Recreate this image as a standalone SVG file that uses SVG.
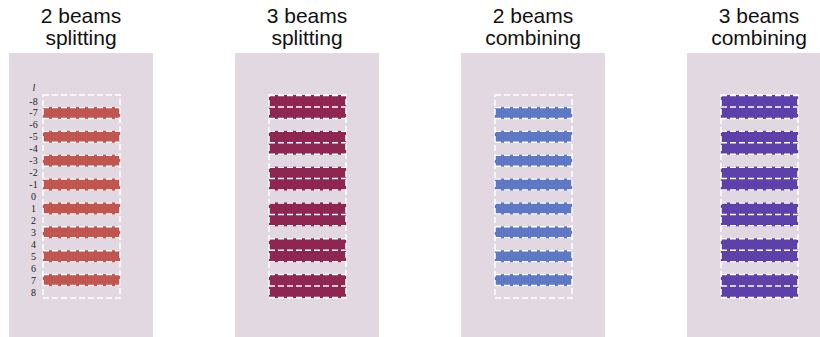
<svg xmlns="http://www.w3.org/2000/svg" width="820" height="337" viewBox="0 0 820 337">
<style>
.bg{fill:#e2d8e1}
.title{font-family:"Liberation Sans",Arial,sans-serif;font-size:21px;fill:#111;text-anchor:middle}
.lab{font-family:"Liberation Serif","Times New Roman",serif;font-size:10px;fill:#222;text-anchor:middle}
.grid{fill:none;stroke:#fff;stroke-width:1.5;stroke-dasharray:6 3}
.dl{stroke:#fff;stroke-width:1.5;stroke-dasharray:6 3;fill:none}
.r{fill:#c0564f}
.c{fill:#8f2651}
.b{fill:#5e78c5}
.p{fill:#5d40a9}
</style>
<defs>
<g id="bar1"><rect x="0" y="0" width="77" height="11.94"/><line class="dl" x1="0" y1="0.5" x2="77" y2="0.5"/><line class="dl" x1="0" y1="11.44" x2="77" y2="11.44"/></g>
<g id="bar2"><rect x="0" y="0" width="77" height="23.88"/><line class="dl" x1="0" y1="0.5" x2="77" y2="0.5"/><line class="dl" x1="0" y1="11.94" x2="77" y2="11.94"/><line class="dl" x1="0" y1="23.38" x2="77" y2="23.38"/></g>
</defs>
<g id="panel1">
<rect class="bg" x="9" y="53" width="144" height="284"/>
<text class="title" x="81" y="23">2 beams</text>
<text class="title" x="81" y="45">splitting</text>
<text class="lab" x="34" y="91" font-style="italic" font-size="11">l</text>
<g class="lab">
<text x="33.5" y="104.5">-8</text><text x="33.5" y="116.4">-7</text><text x="33.5" y="128.4">-6</text><text x="33.5" y="140.3">-5</text><text x="33.5" y="152.3">-4</text><text x="33.5" y="164.2">-3</text><text x="33.5" y="176.1">-2</text><text x="33.5" y="188.1">-1</text><text x="33.5" y="200">0</text><text x="33.5" y="211.9">1</text><text x="33.5" y="223.9">2</text><text x="33.5" y="235.8">3</text><text x="33.5" y="247.8">4</text><text x="33.5" y="259.7">5</text><text x="33.5" y="271.6">6</text><text x="33.5" y="283.6">7</text><text x="33.5" y="295.5">8</text>
</g>
<g class="r">
<use href="#bar1" x="43" y="106.94"/><use href="#bar1" x="43" y="130.82"/><use href="#bar1" x="43" y="154.7"/><use href="#bar1" x="43" y="178.58"/><use href="#bar1" x="43" y="202.46"/><use href="#bar1" x="43" y="226.34"/><use href="#bar1" x="43" y="250.22"/><use href="#bar1" x="43" y="274.1"/>
</g>
<rect class="grid" x="43" y="95" width="77" height="203"/>
</g>
<g id="panel2">
<rect class="bg" x="235" y="53" width="144" height="284"/>
<text class="title" x="307" y="23">3 beams</text>
<text class="title" x="307" y="45">splitting</text>
<g class="c">
<use href="#bar2" x="269" y="95"/><use href="#bar2" x="269" y="130.82"/><use href="#bar2" x="269" y="166.64"/><use href="#bar2" x="269" y="202.46"/><use href="#bar2" x="269" y="238.28"/><use href="#bar2" x="269" y="274.1"/>
</g>
<rect class="grid" x="269" y="95" width="77" height="203"/>
</g>
<g id="panel3">
<rect class="bg" x="461" y="53" width="144" height="284"/>
<text class="title" x="533" y="23">2 beams</text>
<text class="title" x="533" y="45">combining</text>
<g class="b">
<use href="#bar1" x="495" y="106.94"/><use href="#bar1" x="495" y="130.82"/><use href="#bar1" x="495" y="154.7"/><use href="#bar1" x="495" y="178.58"/><use href="#bar1" x="495" y="202.46"/><use href="#bar1" x="495" y="226.34"/><use href="#bar1" x="495" y="250.22"/><use href="#bar1" x="495" y="274.1"/>
</g>
<rect class="grid" x="495" y="95" width="77" height="203"/>
</g>
<g id="panel4">
<rect class="bg" x="687" y="53" width="144" height="284"/>
<text class="title" x="759" y="23">3 beams</text>
<text class="title" x="759" y="45">combining</text>
<g class="p">
<use href="#bar2" x="721" y="95"/><use href="#bar2" x="721" y="130.82"/><use href="#bar2" x="721" y="166.64"/><use href="#bar2" x="721" y="202.46"/><use href="#bar2" x="721" y="238.28"/><use href="#bar2" x="721" y="274.1"/>
</g>
<rect class="grid" x="721" y="95" width="77" height="203"/>
</g>
<g id="connectors"/>
</svg>
